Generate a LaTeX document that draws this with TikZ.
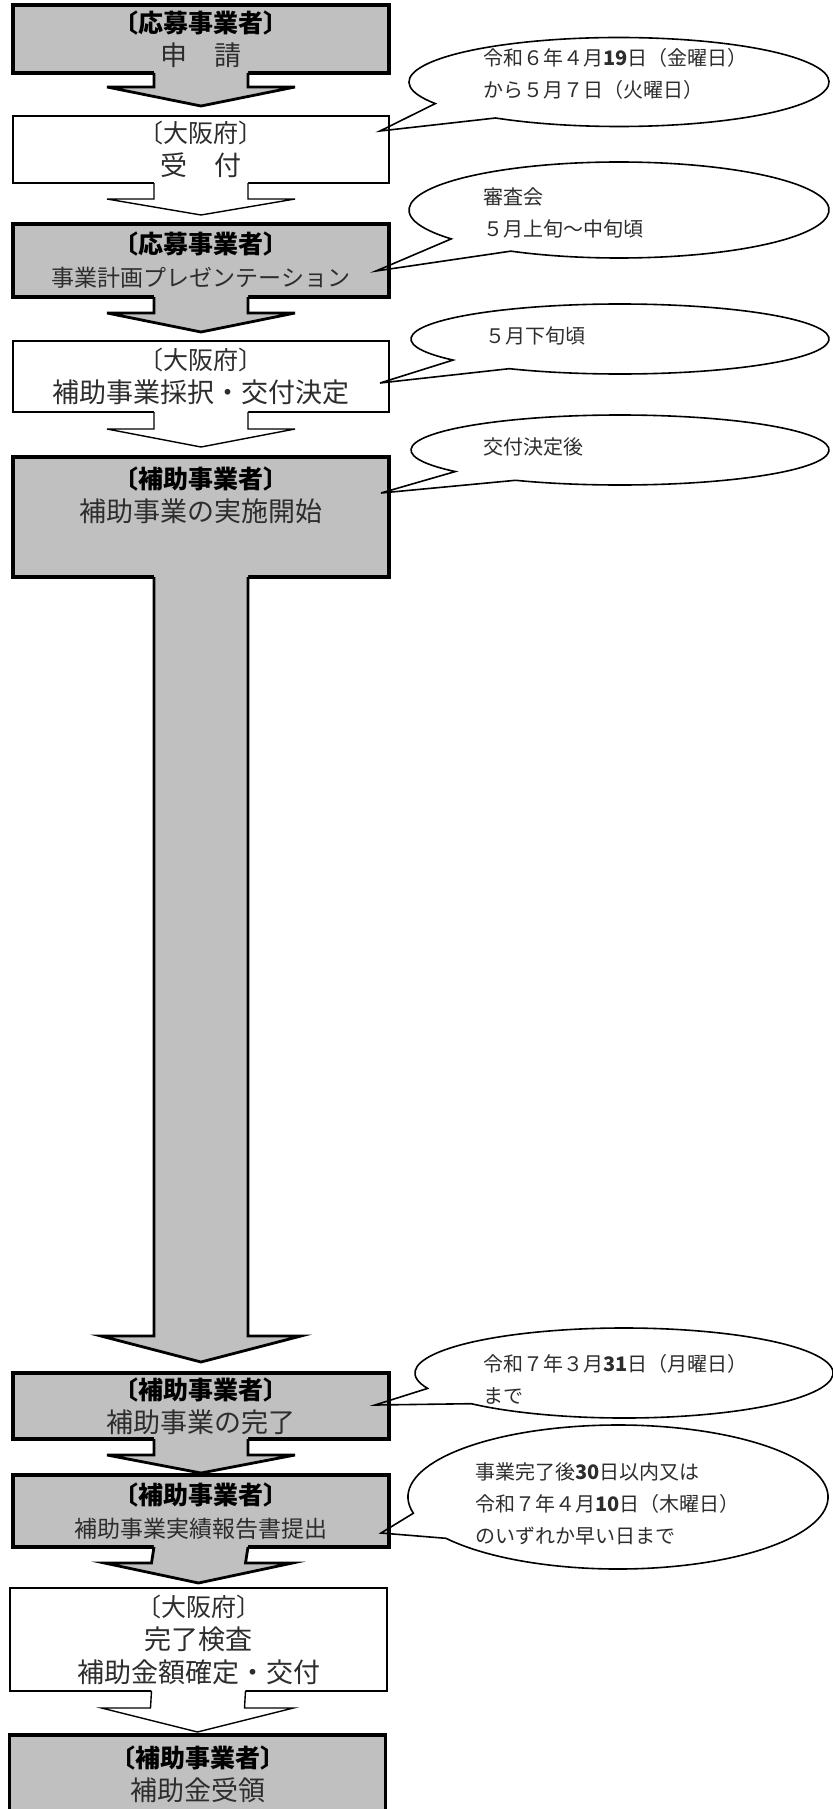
\documentclass[tikz,border=0pt]{standalone}
\usepackage{fontspec}
\setmainfont{Noto Sans CJK JP}
\usetikzlibrary{calc}
\definecolor{boxgray}{RGB}{192,192,192}
\definecolor{textgray}{RGB}{45,45,45}

\newcommand{\boxhead}{\fontsize{12.5}{16.5}\selectfont\bfseries\color{black}}
\newcommand{\boxheadlight}{\fontsize{12.5}{16.5}\selectfont\mdseries\color{textgray}}
\newcommand{\boxbody}{\fontsize{13.5}{16.5}\selectfont\mdseries\color{textgray}}
\newcommand{\boxbodysmall}{\fontsize{11.5}{16.5}\selectfont\mdseries\color{textgray}}
\newcommand{\notefont}{\fontsize{10}{16}\selectfont\color{textgray}}

% block arrow: style, from, to, head half width, head top and tip above the target
\newcommand{\blockarrow}[6][]{%
  \fill[#1,draw=none] ($(#2.south)+(-47,-2)$) -- ($(#3.north)+(-47,-#5)$)
    -- ($(#3.north)+(-#4,-#5)$) -- ($(#3.north)+(0,-#6)$) -- ($(#3.north)+(#4,-#5)$)
    -- ($(#3.north)+(47,-#5)$) -- ($(#2.south)+(47,-2)$) -- cycle;
  \draw[#1,fill=none] ($(#2.south)+(-47,0)$) -- ($(#3.north)+(-47,-#5)$)
    -- ($(#3.north)+(-#4,-#5)$) -- ($(#3.north)+(0,-#6)$) -- ($(#3.north)+(#4,-#5)$)
    -- ($(#3.north)+(47,-#5)$) -- ($(#2.south)+(47,0)$);
}
% speech bubble: centre, x radius, y radius, start angle, end angle, tip
\newcommand{\notebubble}[6]{%
  \draw[bubble] (#6) -- ($(#1)+(#4:#2 and #3)$)
    arc[start angle=#4, end angle=#5, x radius=#2, y radius=#3] -- cycle;
}

\begin{document}
\begin{tikzpicture}[
    x=0.5pt, y=-0.5pt,
    graybox/.style={rectangle, draw=black, line width=1.6pt, fill=boxgray, minimum width=188pt, inner sep=0pt, outer sep=0pt, align=center, font=\fontsize{12.5}{16.5}\selectfont},
    whitebox/.style={rectangle, draw=black, line width=0.7pt, fill=white, minimum width=188pt, inner sep=0pt, outer sep=0pt, align=center, font=\fontsize{12.5}{16.5}\selectfont},
    grayarrow/.style={fill=boxgray, draw=black, line width=1.4pt},
    whitearrow/.style={fill=white, draw=black, line width=0.7pt},
    bubble/.style={draw=black, line width=0.8pt, fill=none},
    note/.style={anchor=west, inner sep=0pt, align=left, font=\notefont}
]
\useasboundingbox (0,0) rectangle (832,1809);

% Steps
\node[graybox, minimum height=34pt] (apply) at (201,39) {\boxhead 〔応募事業者〕\\\boxbody 申　請};
\node[whitebox, minimum height=33.5pt] (recv) at (201,149.5) {\boxheadlight 〔大阪府〕\\\boxbody 受　付};
\node[graybox, minimum height=36.5pt] (present) at (201,260.5) {\boxhead 〔応募事業者〕\\\boxbodysmall 事業計画プレゼンテーション};
\node[whitebox, minimum height=35.5pt] (adopt) at (201,376.5) {\boxheadlight 〔大阪府〕\\\boxbody 補助事業採択・交付決定};
\node[graybox, anchor=north, text height=32.2pt, text depth=27.8pt] (start) at (201,457) {\boxhead 〔補助事業者〕\\\boxbody 補助事業の実施開始};
\node[graybox, minimum height=33pt] (done) at (201,1406) {\boxhead 〔補助事業者〕\\\boxbody 補助事業の完了};
\node[graybox, minimum height=36pt] (report) at (201,1511) {\boxhead 〔補助事業者〕\\\boxbodysmall 補助事業実績報告書提出};
\node[whitebox, minimum height=51.5pt, minimum width=188.5pt] (inspect) at (198.5,1639.5) {\boxheadlight 〔大阪府〕\\\boxbody 完了検査\\\boxbody 補助金額確定・交付};
\node[graybox, minimum height=39pt] (receive) at (197.5,1774) {\boxhead 〔補助事業者〕\\\boxbody 補助金受領};

% Arrows
\blockarrow[grayarrow]{apply}{recv}{94}{29}{10}
\blockarrow[whitearrow]{recv}{present}{94}{25}{9}
\blockarrow[grayarrow]{present}{adopt}{94}{28}{9}
\blockarrow[whitearrow]{adopt}{start}{94}{28}{10}
\blockarrow[grayarrow]{start}{done}{100}{37}{11}
\blockarrow[grayarrow]{done}{report}{94}{20}{2}
\blockarrow[grayarrow]{report}{inspect}{94}{25}{5}
\blockarrow[whitearrow]{inspect}{receive}{96}{27}{3}

% Bubbles
\coordinate (tip1) at ($(recv.east)+(-9,-18.5)$);
\coordinate (tip2) at ($(present.east)+(-13,10.5)$);
\coordinate (tip3) at ($(adopt.east)+(-9,6.5)$);
\coordinate (tip4) at ($(start.north east)+(-8,36)$);
\coordinate (tip5) at ($(done.east)+(-14,-1)$);
\coordinate (tip6) at ($(report.east)+(-8,22)$);
\coordinate (c1) at (619,82);
\coordinate (c2) at (619,210);
\coordinate (c3) at (620,339);
\coordinate (c4) at (620,450);
\coordinate (c5) at (624,1373);
\coordinate (c6) at (618,1497);
\notebubble{c1}{210}{44.5}{151}{486}{tip1}
\notebubble{c2}{210}{48}{143}{481}{tip2}
\notebubble{c3}{209}{35}{143}{482}{tip3}
\notebubble{c4}{209}{35}{142}{480}{tip4}
\notebubble{c5}{209}{45}{160}{497}{tip5}
\notebubble{c6}{210}{72}{167}{505}{tip6}

\node[note] (note1) at (483,74) {令和６年４月\textbf{19}日（金曜日）\\から５月７日（火曜日）};
\node[note] (note2) at (483,212.5) {審査会\\５月上旬～中旬頃};
\node[note] (note3) at (485,336) {５月下旬頃};
\node[note] (note4) at (483,447) {交付決定後};
\node[note] (note5) at (483,1379) {令和７年３月\textbf{31}日（月曜日）\\まで};
\node[note] (note6) at (475,1503.5) {事業完了後\textbf{30}日以内又は\\令和７年４月\textbf{10}日（木曜日）\\のいずれか早い日まで};

\end{tikzpicture}
\end{document}
